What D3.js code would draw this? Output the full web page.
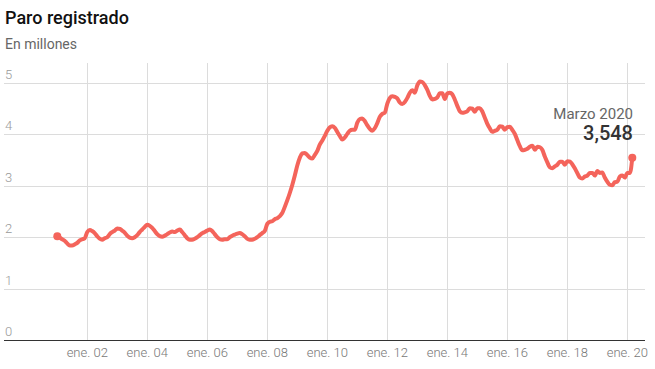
<!DOCTYPE html>
<html>
<head>
<meta charset="utf-8">
<script src="https://cdn.jsdelivr.net/npm/d3@7"></script>
<style>
  html, body { margin: 0; padding: 0; background: #fff; }
  svg { display: block; font-family: Roboto, "Noto Sans", sans-serif; }
</style>
</head>
<body>
<svg id="chart" width="655" height="369"></svg>
<script>
// ---- DATA ----
const title = "Paro registrado";
const subtitle = "En millones";
const startMonth = [2001, 0]; // enero 2001
// Monthly registered unemployment (millions), Jan 2001 – Mar 2020
const paro2001 = [2.02, 1.99, 1.96, 1.93, 1.88, 1.84, 1.84, 1.86, 1.89, 1.94, 1.96, 1.98];
const paro2002 = [2.10, 2.14, 2.12, 2.08, 2.02, 1.97, 1.95, 1.98, 2.00, 2.06, 2.10, 2.13];
const paro2003 = [2.17, 2.16, 2.13, 2.09, 2.03, 1.99, 1.98, 2.00, 2.04, 2.10, 2.15, 2.20];
const paro2004 = [2.24, 2.22, 2.18, 2.12, 2.06, 2.02, 2.01, 2.03, 2.06, 2.09, 2.11, 2.10];
const paro2005 = [2.13, 2.15, 2.10, 2.04, 1.98, 1.95, 1.95, 1.97, 2.00, 2.04, 2.08, 2.10];
const paro2006 = [2.13, 2.15, 2.12, 2.06, 2.00, 1.96, 1.95, 1.96, 1.96, 2.00, 2.03, 2.05];
const paro2007 = [2.07, 2.08, 2.06, 2.02, 1.97, 1.95, 1.95, 1.97, 2.00, 2.04, 2.08, 2.12];
const paro2008 = [2.26, 2.30, 2.31, 2.35, 2.37, 2.41, 2.47, 2.59, 2.72, 2.86, 3.02, 3.20];
const paro2009 = [3.40, 3.55, 3.63, 3.64, 3.60, 3.55, 3.53, 3.60, 3.68, 3.80, 3.88, 3.97];
const paro2010 = [4.07, 4.14, 4.16, 4.13, 4.05, 3.97, 3.90, 3.94, 4.01, 4.07, 4.09, 4.09];
const paro2011 = [4.23, 4.30, 4.31, 4.26, 4.18, 4.11, 4.07, 4.12, 4.22, 4.34, 4.40, 4.42];
const paro2012 = [4.60, 4.71, 4.74, 4.73, 4.70, 4.62, 4.59, 4.63, 4.71, 4.81, 4.86, 4.81];
const paro2013 = [4.96, 5.03, 5.02, 4.96, 4.87, 4.75, 4.68, 4.69, 4.72, 4.80, 4.80, 4.69];
const paro2014 = [4.80, 4.81, 4.78, 4.68, 4.56, 4.45, 4.42, 4.43, 4.45, 4.51, 4.50, 4.44];
const paro2015 = [4.51, 4.51, 4.45, 4.33, 4.21, 4.12, 4.05, 4.07, 4.09, 4.16, 4.15, 4.09];
const paro2016 = [4.14, 4.15, 4.09, 4.01, 3.89, 3.77, 3.69, 3.70, 3.72, 3.76, 3.78, 3.70];
const paro2017 = [3.76, 3.75, 3.70, 3.57, 3.46, 3.36, 3.34, 3.38, 3.41, 3.47, 3.47, 3.41];
const paro2018 = [3.48, 3.47, 3.42, 3.34, 3.25, 3.16, 3.14, 3.18, 3.20, 3.25, 3.25, 3.20];
const paro2019 = [3.29, 3.25, 3.26, 3.16, 3.08, 3.02, 3.01, 3.07, 3.08, 3.18, 3.20, 3.16];
const paro2020 = [3.25, 3.25, 3.548];

const yTicks = [0, 1, 2, 3, 4, 5];
const xTickYears = [2002, 2004, 2006, 2008, 2010, 2012, 2014, 2016, 2018, 2020];
const xTickLabels = ["ene. 02", "ene. 04", "ene. 06", "ene. 08", "ene. 10", "ene. 12", "ene. 14", "ene. 16", "ene. 18", "ene. 20"];
const annotLabel = "Marzo 2020";

// ---- BUILD ----
const values = [].concat(paro2001, paro2002, paro2003, paro2004, paro2005, paro2006, paro2007,
  paro2008, paro2009, paro2010, paro2011, paro2012, paro2013, paro2014, paro2015, paro2016,
  paro2017, paro2018, paro2019, paro2020);
const data = values.map((v, i) => ({ date: new Date(startMonth[0], startMonth[1] + i, 1), value: v }));
const firstPt = data[0], lastPt = data[data.length - 1];

const svg = d3.select("#chart");
const gLeft = 4, gRight = 645, gTop = 63, gBottom = 340;

const x = d3.scaleTime().domain([firstPt.date, lastPt.date]).range([57.3, 632.3]);
const y = d3.scaleLinear().domain([0, 5]).range([gBottom, 83]);

// title
svg.append("text").attr("x", 5).attr("y", 24)
  .attr("font-size", 18).attr("font-weight", 500).attr("fill", "#111").text(title);
svg.append("text").attr("x", 5).attr("y", 49)
  .attr("font-size", 14).attr("fill", "#666").text(subtitle);

// horizontal grid
const gy = svg.append("g");
gy.selectAll("line").data(yTicks.filter(d => d !== 0)).join("line")
  .attr("x1", gLeft).attr("x2", gRight)
  .attr("y1", d => Math.round(y(d)) + 0.5).attr("y2", d => Math.round(y(d)) + 0.5)
  .attr("stroke", "#dcdcdc").attr("stroke-width", 1);
gy.selectAll("text").data(yTicks).join("text")
  .attr("x", 5).attr("y", d => y(d) - 4)
  .attr("font-size", 13).attr("font-weight", 300).attr("fill", "#999").text(d => d);

// vertical grid + x labels
const tickDates = xTickYears.map(yr => new Date(yr, 0, 1));
const gx = svg.append("g");
gx.selectAll("line").data(tickDates).join("line")
  .attr("x1", d => Math.round(x(d)) + 0.5).attr("x2", d => Math.round(x(d)) + 0.5)
  .attr("y1", gTop).attr("y2", gBottom)
  .attr("stroke", "#dcdcdc").attr("stroke-width", 1);
gx.selectAll("text").data(tickDates).join("text")
  .attr("x", d => x(d)).attr("y", 357).attr("text-anchor", "middle")
  .attr("font-size", 13).attr("font-weight", 300).attr("fill", "#777")
  .text((d, i) => xTickLabels[i]);

// baseline axis
svg.append("line").attr("x1", gLeft).attr("x2", gRight)
  .attr("y1", gBottom + 0.5).attr("y2", gBottom + 0.5)
  .attr("stroke", "#333").attr("stroke-width", 1.2);

// line
const lineColor = "#f4645b";
svg.append("path").datum(data)
  .attr("fill", "none").attr("stroke", lineColor).attr("stroke-width", 4)
  .attr("stroke-linejoin", "round").attr("stroke-linecap", "round")
  .attr("d", d3.line().x(d => x(d.date)).y(d => y(d.value)).curve(d3.curveMonotoneX));

svg.selectAll("circle.end").data([firstPt, lastPt]).join("circle")
  .attr("class", "end")
  .attr("cx", d => x(d.date)).attr("cy", d => y(d.value)).attr("r", 4)
  .attr("fill", lineColor);

// annotation
const fmt = d3.formatLocale({ decimal: ",", thousands: ".", grouping: [3], currency: ["", "€"] }).format(".3f");
svg.append("text").attr("x", 633).attr("y", 119).attr("text-anchor", "end")
  .attr("font-size", 15).attr("fill", "#666").text(annotLabel);
svg.append("text").attr("x", 633).attr("y", 140).attr("text-anchor", "end")
  .attr("font-size", 20).attr("font-weight", 500).attr("fill", "#333").text(fmt(lastPt.value));
</script>
</body>
</html>
